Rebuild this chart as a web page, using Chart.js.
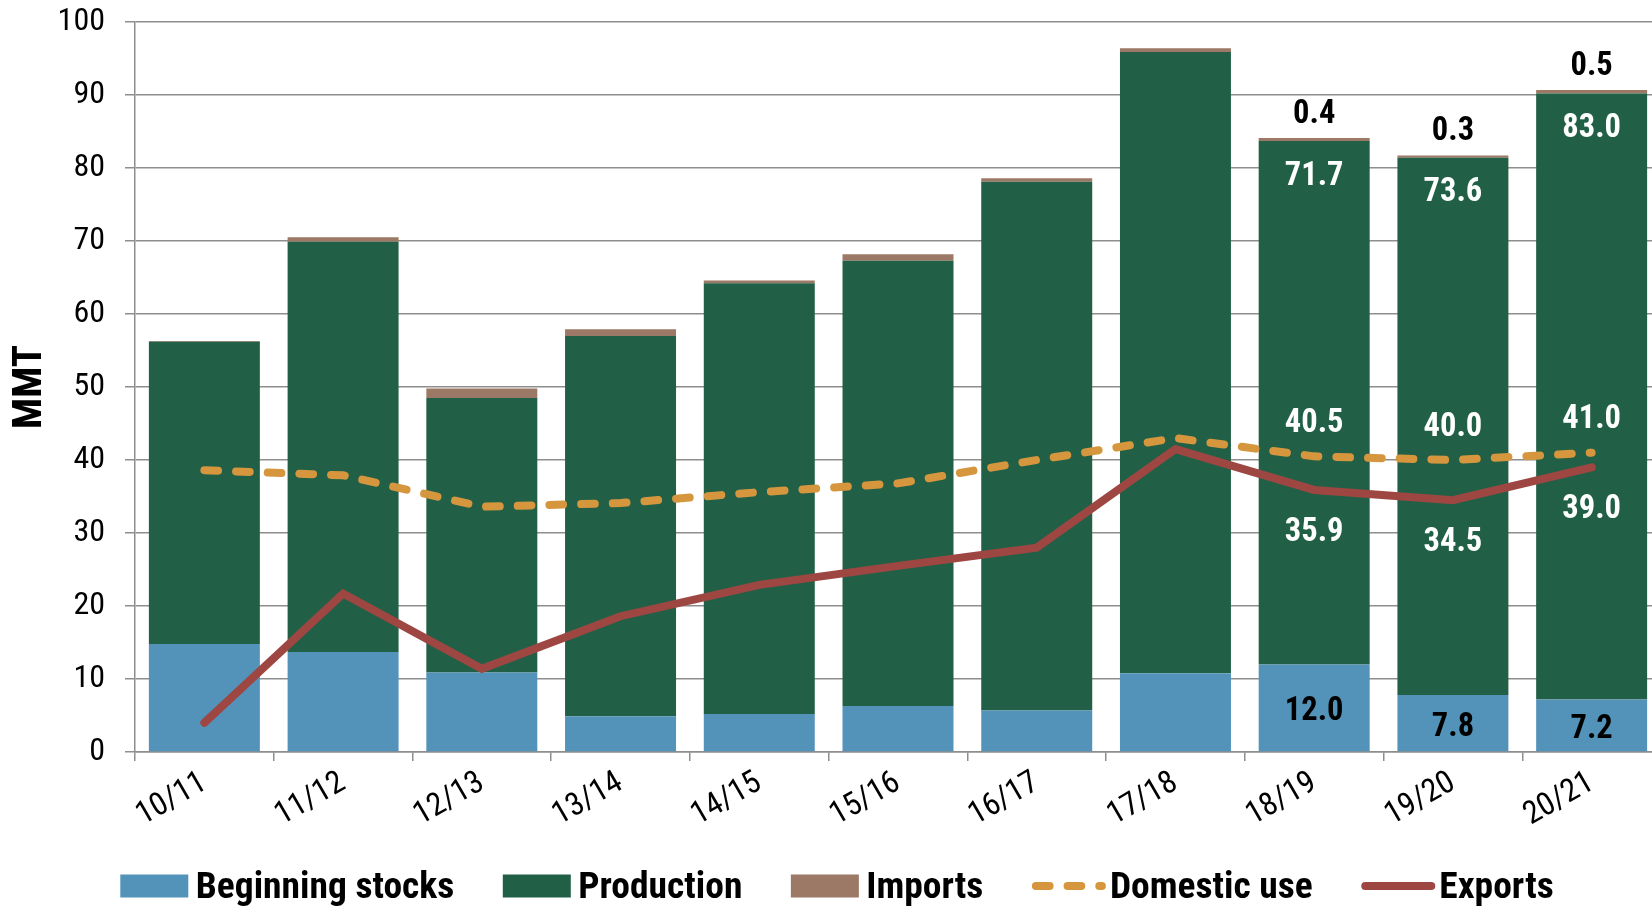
<!DOCTYPE html>
<html>
<head>
<meta charset="utf-8">
<script src="https://cdn.jsdelivr.net/npm/chart.js@4.4.1/dist/chart.umd.min.js"></script>
<style>
  html, body { margin: 0; padding: 0; background: #fff; overflow: hidden; }
  #wrap { width: 1670px; height: 907px; position: relative; }
</style>
</head>
<body>
<div id="wrap"><canvas id="c" width="1670" height="907"></canvas></div>
<script>
// ---- data ----
const categories = ['10/11','11/12','12/13','13/14','14/15','15/16','16/17','17/18','18/19','19/20','20/21'];
const beginningStocks = [14.8, 13.7, 10.9, 4.9, 5.2, 6.3, 5.7, 10.8, 12.0, 7.8, 7.2];
const production      = [41.4, 56.2, 37.6, 52.1, 59.0, 61.0, 72.4, 85.1, 71.7, 73.6, 83.0];
const imports         = [0.1, 0.6, 1.3, 0.9, 0.4, 0.9, 0.5, 0.5, 0.4, 0.3, 0.5];
const domesticUse     = [38.6, 37.9, 33.6, 34.1, 35.6, 36.8, 40.0, 43.0, 40.5, 40.0, 41.0];
const exportsData     = [4.0, 21.7, 11.4, 18.6, 22.9, 25.5, 28.0, 41.5, 35.9, 34.5, 39.0];
const yTicks = [0, 10, 20, 30, 40, 50, 60, 70, 80, 90, 100];
const labelledFrom = 8; // value labels shown for the last three seasons

const FONT = "'Roboto Condensed', Roboto, sans-serif";
const C_STOCKS = '#5393ba';
const C_PROD = '#216046';
const C_IMP = '#9c7866';
const C_DOM = '#d6963e';
const C_EXP = '#9e4642';
const GRID = '#8e8e8e';

const valueLabels = {
  id: 'valueLabels',
  afterDatasetsDraw(chart) {
    const ctx = chart.ctx;
    ctx.save();
    ctx.font = 'bold 32.5px ' + FONT;
    ctx.textAlign = 'center';
    ctx.textBaseline = 'middle';
    const dy = 4.5; // optical centring of digits
    const m = (i) => chart.getDatasetMeta(i).data;
    for (let i = labelledFrom; i < categories.length; i++) {
      const bs = m(0)[i], pr = m(1)[i], im = m(2)[i], du = m(3)[i], ex = m(4)[i];
      ctx.fillStyle = '#000';
      ctx.fillText(beginningStocks[i].toFixed(1), bs.x, (bs.y + bs.base) / 2 + dy);
      ctx.fillText(imports[i].toFixed(1), im.x, im.y - 28 + dy);
      ctx.fillStyle = '#fff';
      ctx.fillText(production[i].toFixed(1), pr.x, pr.y + 31 + dy);
      ctx.fillText(domesticUse[i].toFixed(1), du.x, du.y - 37 + dy);
      ctx.fillText(exportsData[i].toFixed(1), ex.x, ex.y + 38 + dy);
    }
    ctx.restore();
  }
};

const customLegend = {
  id: 'customLegend',
  afterDraw(chart) {
    const ctx = chart.ctx;
    const ds = chart.data.datasets;
    ctx.save();
    ctx.font = 'bold 37.5px ' + FONT;
    ctx.textBaseline = 'middle';
    ctx.textAlign = 'left';
    const boxW = 68, boxH = 23, gap = 7.5, lineW = 74, lineGap = 4, spacing = 48.5;
    const symW = d => d.type === 'line' ? lineW + lineGap : boxW + gap;
    const widths = ds.map(d => symW(d) + ctx.measureText(d.label).width);
    const total = widths.reduce((a, b) => a + b, 0) + spacing * (ds.length - 1);
    let x = chart.width / 2 - total / 2 + 2;
    const cy = 886;
    ds.forEach((d, i) => {
      if (d.type === 'line') {
        ctx.strokeStyle = d.borderColor;
        ctx.lineWidth = 8;
        ctx.lineCap = 'round';
        ctx.setLineDash(d.borderDash || []);
        ctx.beginPath();
        ctx.moveTo(x + 4, cy);
        ctx.lineTo(x + lineW - 4, cy);
        ctx.stroke();
        ctx.setLineDash([]);
      } else {
        ctx.fillStyle = d.backgroundColor;
        ctx.fillRect(x, cy - boxH / 2, boxW, boxH);
      }
      ctx.fillStyle = '#000';
      ctx.fillText(d.label, x + symW(d), cy + 3);
      x += widths[i] + spacing;
    });
    ctx.restore();
  }
};

new Chart(document.getElementById('c'), {
  data: {
    labels: categories,
    datasets: [
      { type: 'bar', label: 'Beginning stocks', data: beginningStocks, backgroundColor: C_STOCKS, stack: 'bars', order: 2 },
      { type: 'bar', label: 'Production', data: production, backgroundColor: C_PROD, stack: 'bars', order: 2 },
      { type: 'bar', label: 'Imports', data: imports, backgroundColor: C_IMP, stack: 'bars', order: 2 },
      { type: 'line', label: 'Domestic use', data: domesticUse, borderColor: C_DOM, backgroundColor: C_DOM,
        borderWidth: 8, borderDash: [13.7, 18], borderCapStyle: 'round', pointRadius: 0, tension: 0, stack: 'dom', order: 1, fill: false },
      { type: 'line', label: 'Exports', data: exportsData, borderColor: C_EXP, backgroundColor: C_EXP,
        borderWidth: 8, borderCapStyle: 'round', borderJoinStyle: 'miter', pointRadius: 0, tension: 0, stack: 'exp', order: 0, fill: false }
    ]
  },
  options: {
    responsive: false,
    animation: false,
    devicePixelRatio: 1,
    layout: { padding: { top: 22, right: 9, left: 0, bottom: 0 } },
    datasets: { bar: { barPercentage: 0.8, categoryPercentage: 1.0 } },
    plugins: { legend: { display: false }, tooltip: { enabled: false } },
    scales: {
      x: {
        stacked: true,
        offset: true,
        grid: { offset: true, drawOnChartArea: false, drawTicks: true, tickLength: 9, color: GRID, lineWidth: 1.5 },
        border: { color: GRID, width: 1.5 },
        ticks: { autoSkip: false, minRotation: 30, maxRotation: 30, color: '#000', padding: 3,
                 font: { family: FONT, size: 32 } },
        afterFit(scale) { scale.height = 155; scale.paddingLeft = 0; scale.paddingRight = 0; }
      },
      y: {
        stacked: true,
        min: 0, max: 100,
        afterBuildTicks(scale) { scale.ticks = yTicks.map(v => ({ value: v })); },
        grid: { color: GRID, lineWidth: 1.5, tickLength: 10 },
        border: { color: GRID, width: 1.5 },
        ticks: { color: '#000', padding: 20, font: { family: FONT, size: 32 } },
        title: { display: true, text: 'MMT', color: '#000', padding: { top: 6.5, bottom: 0 },
                 font: { family: FONT, size: 41, weight: 'bold' } },
        afterFit(scale) { scale.width = 135; scale.paddingTop = 0; scale.paddingBottom = 0; }
      }
    }
  },
  plugins: [valueLabels, customLegend]
});
</script>
</body>
</html>
